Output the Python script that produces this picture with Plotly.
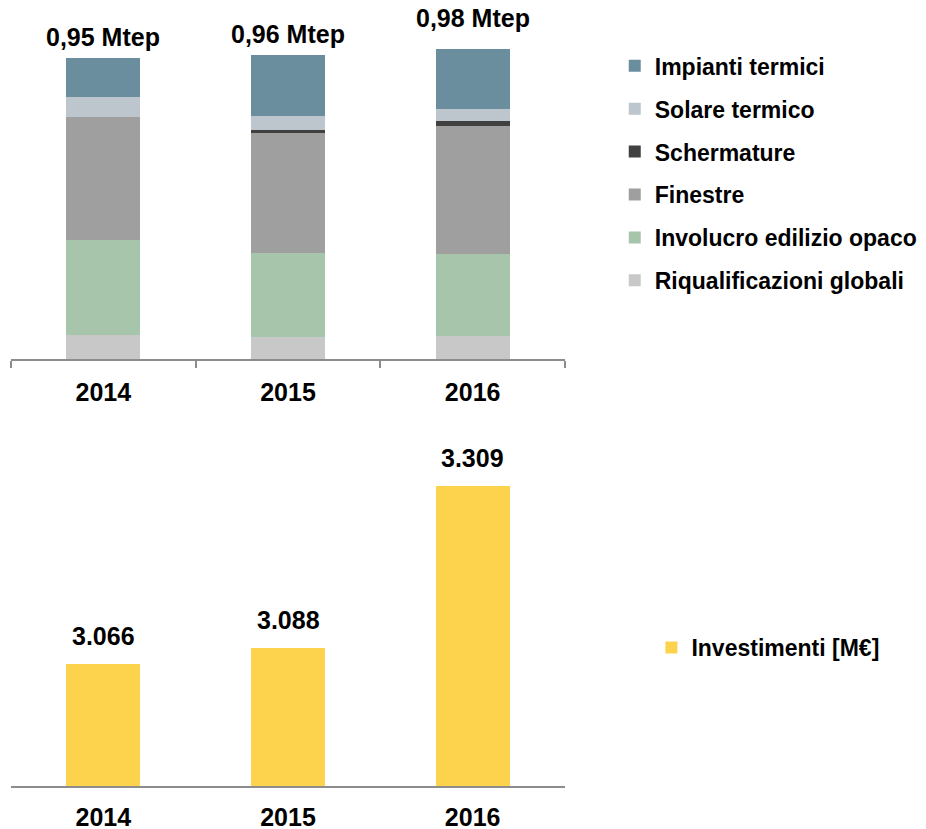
import plotly.graph_objects as go

years = ["2014", "2015", "2016"]

# Top chart: energy savings by intervention type (Mtep)
riqualificazioni = [0.077, 0.071, 0.072]
involucro = [0.298, 0.265, 0.261]
finestre = [0.391, 0.379, 0.403]
schermature = [0.0, 0.0095, 0.016]
solare = [0.063, 0.043, 0.038]
impianti = [0.121, 0.195, 0.191]
total_labels = ["0,95 Mtep", "0,96 Mtep", "0,98 Mtep"]

# Bottom chart: investments (M€)
investimenti = [3066, 3088, 3309]
investimenti_labels = ["3.066", "3.088", "3.309"]

series = [
    ("Riqualificazioni globali", riqualificazioni, "#C8C8C8"),
    ("Involucro edilizio opaco", involucro, "#A6C5AB"),
    ("Finestre", finestre, "#9F9F9F"),
    ("Schermature", schermature, "#404040"),
    ("Solare termico", solare, "#BCC6CC"),
    ("Impianti termici", impianti, "#6A8E9E"),
]

FONT = "Arial, Liberation Sans, sans-serif"

fig = go.Figure()
for i, (name, vals, col) in enumerate(series):
    fig.add_trace(go.Bar(
        x=years, y=vals, name=name, marker=dict(color=col, line=dict(width=0)),
        xaxis="x", yaxis="y", legend="legend", legendgroup=f"g{i}",
        legendrank=len(series) - i, hoverinfo="skip",
    ))

fig.add_trace(go.Bar(
    x=years, y=investimenti, name="Investimenti [M€]",
    marker=dict(color="#FDD24D", line=dict(width=0)),
    xaxis="x2", yaxis="y2", legend="legend2", hoverinfo="skip",
))

totals = [sum(s[1][j] for s in series) for j in range(len(years))]
top_shift = [5, 4, 15]
annotations = []
for j, yr in enumerate(years):
    # on a category axis a numeric x is the category index
    annotations.append(dict(
        x=j, y=totals[j], xref="x", yref="y", text=total_labels[j],
        showarrow=False, yanchor="bottom", yshift=top_shift[j],
        font=dict(family=FONT, size=25, color="black", weight=700),
    ))
    annotations.append(dict(
        x=j, y=investimenti[j], xref="x2", yref="y2", text=investimenti_labels[j],
        showarrow=False, yanchor="bottom", yshift=12,
        font=dict(family=FONT, size=25, color="black", weight=700),
    ))

axis_font = dict(family=FONT, size=25, color="black", weight=700)
leg_font = dict(family=FONT, size=23, color="black", weight=700)

fig.update_layout(
    width=926, height=829,
    margin=dict(l=3, r=369, t=3, b=51, autoexpand=False),
    paper_bgcolor="white", plot_bgcolor="white",
    barmode="stack", bargap=0.6,
    xaxis=dict(type="category", categoryorder="array", categoryarray=years,
               range=[-0.5, len(years) - 0.5],
               domain=[0, 1], anchor="y", showgrid=False, showline=True,
               linecolor="#8C8C8C", linewidth=2, ticks="outside",
               tickson="boundaries", ticklen=7, tickwidth=2, tickcolor="#8C8C8C",
               tickfont=axis_font, ticklabelstandoff=10, tickangle=0),
    yaxis=dict(domain=[0.551, 1.0], anchor="x", range=[0, 1.1], visible=False),
    xaxis2=dict(type="category", categoryorder="array", categoryarray=years,
                range=[-0.5, len(years) - 0.5],
                domain=[0, 1], anchor="y2", showgrid=False, showline=True,
                linecolor="#8C8C8C", linewidth=2, ticks="",
                tickfont=axis_font, ticklabelstandoff=8, tickangle=0),
    yaxis2=dict(domain=[0, 0.4735], anchor="x2", range=[2900, 3400], visible=False),
    legend=dict(x=1.0898, y=0.9570, xanchor="left", yanchor="top",
                font=leg_font, traceorder="grouped", tracegroupgap=10,
                bgcolor="rgba(0,0,0,0)"),
    legend2=dict(x=1.1560, y=0.1787, xanchor="left", yanchor="middle",
                 font=leg_font, bgcolor="rgba(0,0,0,0)"),
    annotations=annotations,
    showlegend=True,
)

fig.write_html("out.html")
